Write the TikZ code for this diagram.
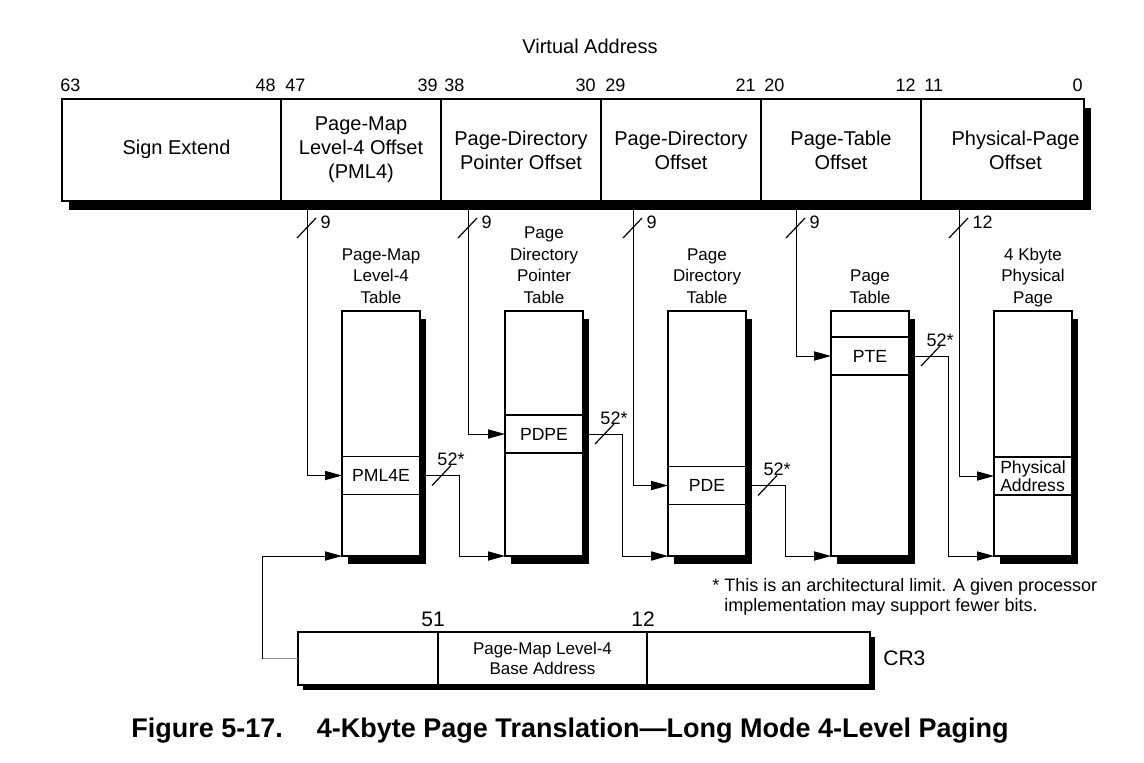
\documentclass[tikz,border=0pt]{standalone}
\usepackage{fontspec}
\setmainfont{Liberation Sans}
\usetikzlibrary{arrows.meta, positioning, calc, shadows}
\newcommand{\fsize}[2]{\fontsize{#1}{#2}\selectfont}
% slash across a bus line, with its width
\newcommand{\buswidth}[4]{%
  \draw[slashline] ($(#1)+(#2)+(-10,10)$) -- ++(19,-20) node[widthlabel, #4] {#3};}

\begin{document}
\begin{tikzpicture}[
  x=0.5pt, y=-0.5pt,
  field/.style={draw, line width=1pt, fill=white, outer sep=0pt, minimum height=51pt, inner sep=1pt, align=center, font=\fsize{10}{12},
    drop shadow={shadow xshift=3.5pt, shadow yshift=-4.5pt, opacity=1, fill=black}},
  fieldtext/.style={inner sep=0pt, align=center, font=\fsize{10}{12}},
  pgtable/.style={draw, line width=1pt, fill=white, outer sep=0pt, minimum width=39pt, minimum height=122.5pt,
    drop shadow={shadow xshift=3pt, shadow yshift=-4pt, opacity=1, fill=black}},
  entry/.style={draw, line width=0.9pt, fill=white, outer sep=0pt, minimum width=39pt, minimum height=19pt, inner sep=1pt, font=\fsize{8.8}{8.7}},
  tablabel/.style={align=center, inner sep=0pt, font=\fsize{8.5}{10.8}},
  crfield/.style={draw, line width=0.7pt, fill=white, outer sep=0pt, minimum height=26.5pt, inner sep=1pt, align=center, font=\fsize{8.5}{10},
    drop shadow={shadow xshift=2.5pt, shadow yshift=-2.5pt, opacity=1, fill=black}},
  bitno/.style={inner sep=0pt, font=\fsize{9}{11}},
  widthlabel/.style={inner sep=1pt, font=\fsize{9}{11}},
  link/.style={line width=0.5pt, -{Triangle[length=8.5pt, width=4.6pt]}},
  slashline/.style={line width=0.6pt}
]
\useasboundingbox (0,0) rectangle (1144,762);
\fill[white] (0,0) rectangle (1144,762);

% virtual address
\node[inner sep=0pt, font=\fsize{10}{12}] (va) at (590,46) {Virtual Address};
\node[field, minimum width=109.5pt] (se) at (171.5,150) {};
\node[fieldtext] (set) at ($(se.center)+(5,-1)$) {Sign Extend};
\node[field, minimum width=80pt, right=0pt of se] (pml4f) {Page-Map\\Level-4 Offset\\(PML4)};
\node[field, minimum width=80pt, right=0pt of pml4f] (pdpf) {Page-Directory\\Pointer Offset};
\node[field, minimum width=80pt, right=0pt of pdpf] (pdf) {Page-Directory\\Offset};
\node[field, minimum width=80pt, right=0pt of pdf] (ptf) {Page-Table\\Offset};
\node[field, minimum width=81.5pt, right=0pt of ptf] (offf) {};
\node[fieldtext] (offt) at ($(offf.center)+(13,0)$) {Physical-Page\\Offset};

\node[bitno, anchor=base west] (b63) at ($(se.north west)+(-2,-8)$) {63};
\node[bitno, anchor=base east] (b48) at ($(se.north east)+(-5,-8)$) {48};
\node[bitno, anchor=base west] (b47) at ($(pml4f.north west)+(4,-8)$) {47};
\node[bitno, anchor=base east] (b39) at ($(pml4f.north east)+(-3,-8)$) {39};
\node[bitno, anchor=base west] (b38) at ($(pdpf.north west)+(3,-8)$) {38};
\node[bitno, anchor=base east] (b30) at ($(pdpf.north east)+(-5,-8)$) {30};
\node[bitno, anchor=base west] (b29) at ($(pdf.north west)+(4,-8)$) {29};
\node[bitno, anchor=base east] (b21) at ($(pdf.north east)+(-5,-8)$) {21};
\node[bitno, anchor=base west] (b20) at ($(ptf.north west)+(3,-8)$) {20};
\node[bitno, anchor=base east] (b12) at ($(ptf.north east)+(-5,-8)$) {12};
\node[bitno, anchor=base west] (b11) at ($(offf.north west)+(3,-8)$) {11};
\node[bitno, anchor=base east] (b0) at ($(offf.north east)+(-1,-8)$) {0};

% tables
\node[pgtable] (pml4t) at (381,433.5) {};
\node[pgtable, right=42.5pt of pml4t] (pdpt) {};
\node[pgtable, right=42.5pt of pdpt] (pdt) {};
\node[pgtable, right=42.5pt of pdt] (ptt) {};
\node[pgtable, right=42.5pt of ptt] (ppage) {};

\node[tablabel, above=0.3pt of pml4t] (pml4l) {Page-Map\\Level-4\\Table\strut};
\node[tablabel, above=0.3pt of pdpt] (pdpl) {Page\\Directory\\Pointer\\Table\strut};
\node[tablabel, above=0.3pt of pdt] (pdl) {Page\\Directory\\Table\strut};
\node[tablabel, above=0.3pt of ptt] (ptl) {Page\\Table\strut};
\node[tablabel, above=0.3pt of ppage] (ppl) {4 Kbyte\\Physical\\Page\strut};

\node[entry] (pml4e) at ($(pml4t.north)+(0,164.5)$) {PML4E};
\node[entry] (pdpe) at ($(pdpt.north)+(0,123)$) {PDPE};
\node[entry] (pde) at ($(pdt.north)+(0,174.5)$) {PDE};
\node[entry] (pte) at ($(ptt.north)+(0,45)$) {PTE};
\node[entry, align=left] (pa) at ($(ppage.north)+(0,165)$) {Physical\\Address};

% index bits into the tables
\coordinate (tap1) at ($(se.south -| pml4t.west)+(-35,0)$);
\coordinate (tap2) at ($(se.south -| pdpt.west)+(-37,0)$);
\coordinate (tap3) at ($(se.south -| pdt.west)+(-35,0)$);
\coordinate (tap4) at ($(se.south -| ptt.west)+(-35,0)$);
\coordinate (tap5) at ($(se.south -| ppage.west)+(-35,0)$);
\draw[link] (tap1) |- (pml4e.west);
\draw[link] (tap2) |- (pdpe.west);
\draw[link] (tap3) |- (pde.west);
\draw[link] (tap4) |- (pte.west);
\draw[link] (tap5) |- (pa.west);
\buswidth{tap1}{0,27}{9}{anchor=west, xshift=1pt, yshift=-2pt}
\buswidth{tap2}{0,27}{9}{anchor=west, xshift=1pt, yshift=-2pt}
\buswidth{tap3}{0,27}{9}{anchor=west, xshift=1pt, yshift=-2pt}
\buswidth{tap4}{0,27}{9}{anchor=west, xshift=1pt, yshift=-2pt}
\buswidth{tap5}{0,27}{12}{anchor=west, xshift=1pt, yshift=-2pt}

% base addresses to the next level
\draw[link] (pml4e.east) -- ++(39,0) |- (pdpt.south west);
\draw[link] (pdpe.east) -- ++(39,0) |- (pdt.south west);
\draw[link] (pde.east) -- ++(39,0) |- (ptt.south west);
\draw[link] (pte.east) -- ++(39,0) |- (ppage.south west);
\buswidth{pml4e.east}{22,0}{52*}{anchor=south, yshift=-1.5pt}
\buswidth{pdpe.east}{22,0}{52*}{anchor=south, yshift=-1.5pt}
\buswidth{pde.east}{22,0}{52*}{anchor=south, yshift=-1.5pt}
\buswidth{pte.east}{22,0}{52*}{anchor=south, yshift=-1.5pt}

\node[inner sep=0pt, anchor=north west, align=left, font=\fsize{9}{10}] (fn) at (712,578)
  {* This is an architectural limit. A given processor\\\phantom{* }implementation may support fewer bits.};

% CR3
\node[crfield, minimum width=70pt] (cr3a) at (368,658.5) {};
\node[crfield, minimum width=104.5pt, right=0pt of cr3a] (cr3b) {Page-Map Level-4\\Base Address};
\node[crfield, minimum width=111.5pt, right=0pt of cr3b] (cr3c) {};
\node[bitno, font=\fsize{10.5}{12}, anchor=base] (c51) at ($(cr3a.north east)+(-5,-6)$) {51};
\node[bitno, font=\fsize{10.5}{12}, anchor=base] (c12) at ($(cr3b.north east)+(-4,-6)$) {12};
\node[inner sep=0pt, font=\fsize{10.5}{12}, right=6.5pt of cr3c] (cr3) {CR3};
\coordinate (crturn) at ($(cr3a.west)+(-36,0)$);
\draw[line width=0.5pt, black!45] (cr3a.west) -- (crturn);
\draw[link] (crturn) |- (pml4t.south west);

\node[inner sep=0pt, font=\fsize{13.5}{16}\bfseries] (cap) at (570,731)
  {Figure 5-17.\hspace{17pt}4-Kbyte Page Translation—Long Mode 4-Level Paging};
\end{tikzpicture}
\end{document}
